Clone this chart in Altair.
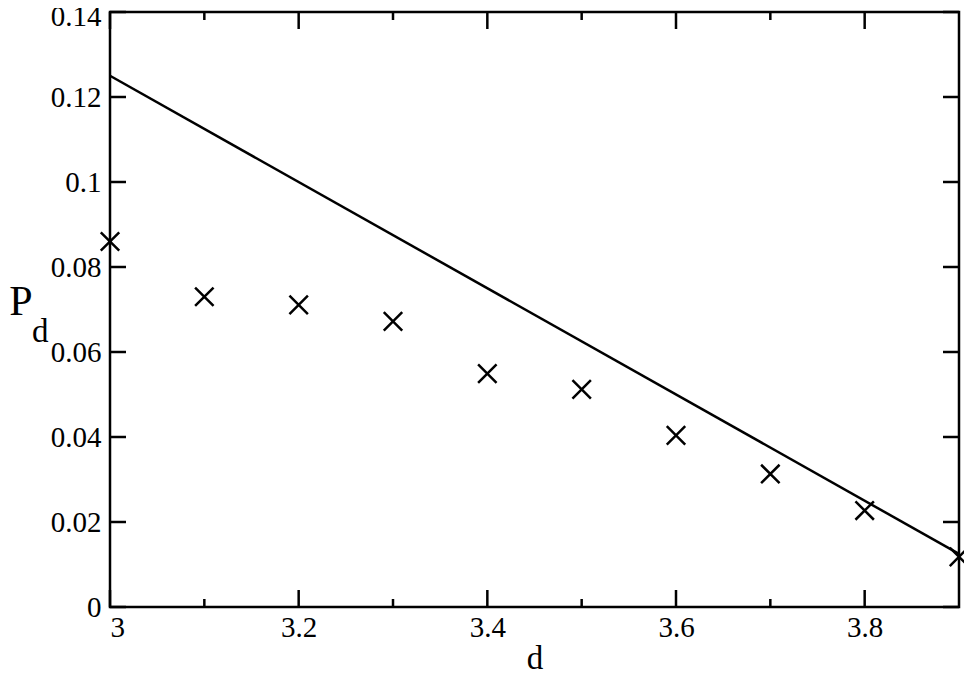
import altair as alt
import pandas as pd

# data
d_vals = [3.0, 3.1, 3.2, 3.3, 3.4, 3.5, 3.6, 3.7, 3.8, 3.9]
pd_vals = [0.0860, 0.0730, 0.0711, 0.0672, 0.0549, 0.0512, 0.0404, 0.0313, 0.0227, 0.0118]
line_d = [3.0, 3.9]
line_p = [0.125, 0.0125]
x_major = [3.0, 3.2, 3.4, 3.6, 3.8]
x_minor = [3.1, 3.3, 3.5, 3.7]
y_major = [0.0, 0.02, 0.04, 0.06, 0.08, 0.10, 0.12, 0.14]

W, H = 849, 595
FONT = "Liberation Serif, Times New Roman, Tinos, DejaVu Serif, serif"

pts = pd.DataFrame({"d": d_vals, "P": pd_vals})
ln = pd.DataFrame({"d": line_d, "P": line_p})
xmaj = pd.DataFrame({"t": x_major})
xmin = pd.DataFrame({"t": x_minor})
ymaj = pd.DataFrame({"t": y_major})

xs = alt.Scale(domain=[3.0, 3.9], nice=False, zero=False)
ys = alt.Scale(domain=[0, 0.14], nice=False, zero=False)

xaxis = alt.Axis(values=x_major, format="~g", ticks=False, domain=False, grid=False,
                 labelFont=FONT, labelFontSize=29, labelColor="black", labelPadding=6,
                 title="d", titleFont=FONT, titleFontSize=33, titleFontWeight="normal",
                 titleColor="black", titlePadding=0)
yaxis = alt.Axis(values=y_major, format=".2~f", ticks=False, domain=False, grid=False,
                 labelFont=FONT, labelFontSize=29, labelColor="black", labelPadding=9,
                 labelOffset={"condition": {"test": "datum.value > 0.139", "value": 4}, "value": 0},
                 title=None)

line = alt.Chart(ln).mark_line(color="black", strokeWidth=2.5).encode(
    x=alt.X("d:Q", scale=xs, axis=xaxis),
    y=alt.Y("P:Q", scale=ys, axis=yaxis),
)

cross = alt.Chart(pts).mark_point(
    shape="M-1,-1L1,1M-1,1L1,-1", size=340, filled=False, color="black",
    strokeWidth=2.5, opacity=1
).encode(x=alt.X("d:Q", scale=xs), y=alt.Y("P:Q", scale=ys))

def xticks(df, length):
    bot = alt.Chart(df).mark_rule(color="black", strokeWidth=2.5).encode(
        x=alt.X("t:Q", scale=xs), y=alt.value(H), y2=alt.value(H - length))
    top = alt.Chart(df).mark_rule(color="black", strokeWidth=2.5).encode(
        x=alt.X("t:Q", scale=xs), y=alt.value(0), y2=alt.value(length))
    return bot + top

yl = alt.Chart(ymaj).mark_rule(color="black", strokeWidth=2.5).encode(
    y=alt.Y("t:Q", scale=ys), x=alt.value(0), x2=alt.value(16))
yr = alt.Chart(ymaj).mark_rule(color="black", strokeWidth=2.5).encode(
    y=alt.Y("t:Q", scale=ys), x=alt.value(W), x2=alt.value(W - 16))

title_p = alt.Chart(pd.DataFrame({"s": ["P"]})).mark_text(
    font=FONT, fontSize=42, align="center", baseline="alphabetic", color="black"
).encode(text="s:N", x=alt.value(-89), y=alt.value(303))
title_d = alt.Chart(pd.DataFrame({"s": ["d"]})).mark_text(
    font=FONT, fontSize=33, align="left", baseline="alphabetic", color="black"
).encode(text="s:N", x=alt.value(-78), y=alt.value(330))

chart = alt.layer(
    line, cross, xticks(xmaj, 17), xticks(xmin, 8), yl, yr, title_p, title_d
).properties(
    width=W, height=H,
    autosize=alt.AutoSizeParams(type="none"),
    padding={"left": 102, "top": 4, "right": 5, "bottom": 62},
    background="white",
).configure_view(stroke="black", strokeWidth=2.5)

chart.save("out.html", embed_options={"renderer": "svg", "actions": False})
